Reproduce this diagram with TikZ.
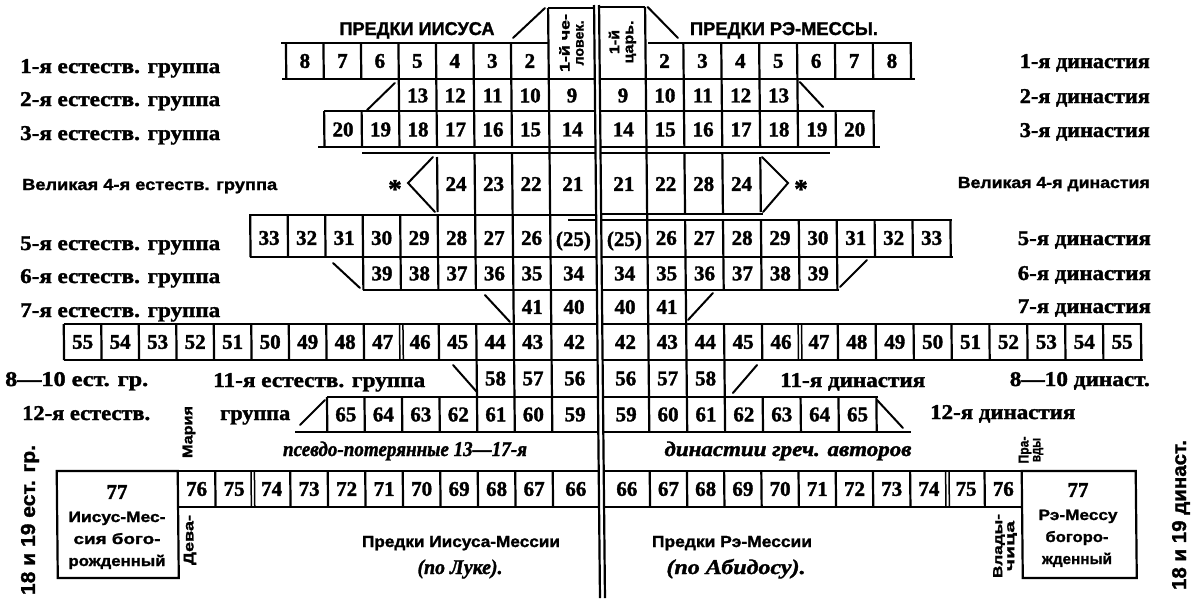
\documentclass[tikz,border=0pt]{standalone}
\usepackage{fontspec}
\setmainfont{Liberation Serif}[BoldFeatures={FakeBold=1.6},BoldItalicFeatures={FakeBold=1.6}]
\setsansfont{Liberation Sans}[BoldFeatures={FakeBold=1.4}]
\usepackage{graphicx}
\newcommand\fitto[2]{\resizebox{#1pt}{\height}{#2}}
\newcommand\Lbars[4]{\foreach \k in {#2}{\draw[rule] ({548-#1*\k},#3) -- ({548-#1*\k},#4);}}
\newcommand\Rbars[4]{\foreach \k in {#2}{\draw[rule] ({645+#1*\k},#3) -- ({645+#1*\k},#4);}}
\newcommand\Lnums[4]{\foreach \t [count=\k] in {#4}{\node[num] (#2-\k) at ({548-#1*(\k-0.5)},#3) {\t};}}
\newcommand\Rnums[4]{\foreach \t [count=\k] in {#4}{\node[num] (#2-\k) at ({645+#1*(\k-0.5)},#3) {\t};}}
\newcommand\Dbar[3]{\draw[dbl] ({#1-1.7},#2) -- ({#1-1.7},#3); \draw[dbl] ({#1+1.7},#2) -- ({#1+1.7},#3);}
\tikzset{
  rule/.style={line width=2.2pt, line cap=butt},
  dbl/.style={line width=1.5pt},
  diag/.style={line width=2pt, line cap=round, line join=miter},
  num/.style={font=\bfseries\fontsize{21}{21}\selectfont, inner sep=0pt},
  grp/.style={font=\bfseries\fontsize{21}{21}\selectfont, inner sep=0pt, anchor=base west},
  grpr/.style={grp, anchor=base east},
  sgrp/.style={font=\sffamily\bfseries\fontsize{16}{16}\selectfont, inner sep=0pt, anchor=base west},
  sgrpr/.style={sgrp, anchor=base east},
  hdr/.style={font=\sffamily\bfseries\fontsize{18.5}{18.5}\selectfont, inner sep=0pt, anchor=base},
  ital/.style={font=\bfseries\itshape\fontsize{21}{21}\selectfont, inner sep=0pt, anchor=base},
  sbot/.style={font=\sffamily\bfseries\fontsize{16}{16}\selectfont, inner sep=0pt, anchor=base},
  vert/.style={rotate=90, font=\sffamily\bfseries\fontsize{14}{14}\selectfont, align=center, inner sep=0pt},
  vbig/.style={rotate=90, font=\sffamily\bfseries\fontsize{20}{20}\selectfont, inner sep=0pt},
  boxt/.style={font=\sffamily\bfseries\fontsize{15}{15}\selectfont, inner sep=0pt, anchor=base},
  star/.style={font=\bfseries\fontsize{27}{27}\selectfont, inner sep=0pt},
}
\begin{document}
\begin{tikzpicture}[x=1pt,y=-1pt]
\useasboundingbox (0,0) rectangle (1200,600);
\begin{scope}[xslant=-0.01]
% central double line
\draw[rule] (594,5) -- (594,598);
\draw[rule] (599,5) -- (599,598);
% centre column borders
\draw[rule] (548,8) -- (548,432); \draw[rule] (548,471) -- (548,507);
\draw[rule] (645,7) -- (645,432); \draw[rule] (645,471) -- (645,507);
\draw[rule] (548,8) -- (594,8);
\draw[rule] (599,7) -- (645,7);
\draw[rule] (281,43) -- (548,43);
\draw[rule] (648,43) -- (912,43);
% horizontal rules
\foreach \y/\a in {79/281, 111/323, 147/317, 153/360.5, 215/247, 220/566, 257/247, 290/360.5, 324/60.5, 360/60.5, 397/323, 432/291, 471/52, 507/173}
  \draw[rule] (\a,\y) -- (594,\y);
\foreach \y/\b in {79/914, 111/874, 147/879, 153/828, 214/761, 220/950, 257/950, 290/836, 324/1139, 360/1139, 397/874, 432/907, 471/1131, 507/1017}
  \draw[rule] (599,\y) -- (\b,\y);
% vertical bars
\Lbars{37.5}{1,...,7}{43}{79}
\Rbars{37.9}{1,...,7}{43}{79}
\Lbars{37.5}{1,...,4}{79}{111}
\Rbars{37.9}{1,...,4}{79}{111}
\Lbars{37.5}{1,...,6}{111}{147}
\Rbars{37.9}{1,...,6}{111}{147}
\Lbars{37.5}{1,2}{153}{215}
\Lbars{37.5}{3}{157}{212}
\Rbars{37.9}{1,2}{153}{214}
\Rbars{37.9}{3}{157}{212}
\Lbars{37.5}{1,...,8}{215}{257}
\Rbars{37.9}{1,...,8}{220}{257}
\Lbars{37.5}{1,...,5}{257}{290}
\Rbars{37.9}{1,...,5}{257}{290}
\Lbars{37.5}{1}{290}{324}
\Rbars{37.9}{1}{290}{324}
\Lbars{37.5}{1,2,3,5,6,7,8,9,10,11,12,13}{324}{360}
\Rbars{37.9}{1,2,3,5,6,7,8,9,10,11,12,13}{324}{360}
\Dbar{398}{324}{360}
\Dbar{796.6}{324}{360}
\Lbars{37.5}{1,2}{360}{397}
\Rbars{37.9}{1,2}{360}{397}
\Lbars{37.5}{1,...,6}{397}{432}
\Rbars{37.9}{1,...,6}{397}{432}
\Lbars{37.5}{1,2,3,4,5,6,7,9}{471}{507}
\Rbars{37.2}{1,2,3,4,5,6,7,9}{471}{507}
\Dbar{248}{471}{507}
\Dbar{942.6}{471}{507}
% boxes 77
\draw[rule] (52,471) rectangle (173,578);
\draw[rule] (1017,471) rectangle (1131,578);
% diagonals
\draw[diag] (512.6,38) -- (544.9,8);
\draw[diag] (647.6,7) -- (677.6,38);
\draw[diag] (366,110) -- (394,83);
\draw[diag] (799,82) -- (822,107);
\draw[diag] (431.4,157) -- (406.2,183) -- (432.9,212);
\draw[diag] (760.4,157) -- (786.2,183) -- (760.9,212);
\draw[diag] (330.4,263) -- (357.1,288);
\draw[diag] (837.1,287) -- (864.4,260);
\draw[diag] (482,295) -- (506.8,322);
\draw[diag] (684.8,320) -- (710,293);
\draw[diag] (449.4,365) -- (473,392);
\draw[diag] (729,393) -- (753.4,365);
\draw[diag] (295.8,425) -- (321,400);
\draw[diag] (873,400) -- (898.7,428);
% numbers
\node[vert] (lc1) at (571,43) {\fitto{58}{1-й че-}\\\fitto{45}{ловек.}};
\node[vert] (rc1) at (622,42) {\fitto{24}{1-й}\\\fitto{43}{царь.}};
\Lnums{37.5}{la}{61}{2,3,4,5,6,7,8}
\Rnums{37.9}{ra}{61}{2,3,4,5,6,7,8}
\node[num] (lc2) at (571,95.5) {9};
\node[num] (rc2) at (622,95.5) {9};
\Lnums{37.5}{lb}{95.5}{10,11,12,13}
\Rnums{37.9}{rb}{95.5}{10,11,12,13}
\node[num] (lc3) at (571,129.5) {14};
\node[num] (rc3) at (622,129.5) {14};
\Lnums{37.5}{lcc}{129.5}{15,16,17,18,19,20}
\Rnums{37.9}{rcc}{129.5}{15,16,17,18,19,20}
\node[num] (lc4) at (571,184) {21};
\node[num] (rc4) at (622,184) {21};
\Lnums{37.5}{ld}{184}{22,23,24}
\Rnums{37.9}{rd}{184}{22,28,24}
\node[num] (lc5) at (571,241) {(25)};
\node[num] (rc5) at (622,241) {(25)};
\Lnums{37.5}{le}{238}{26,27,28,29,30,31,32,33}
\Rnums{37.9}{re}{238}{26,27,28,29,30,31,32,33}
\node[num] (lc6) at (571,273.5) {34};
\node[num] (rc6) at (622,273.5) {34};
\Lnums{37.5}{lf}{273.5}{35,36,37,38,39}
\Rnums{37.9}{rf}{273.5}{35,36,37,38,39}
\node[num] (lc7) at (571,307) {40};
\node[num] (rc7) at (622,307) {40};
\Lnums{37.5}{lg}{307}{41}
\Rnums{37.9}{rg}{307}{41}
\node[num] (lc8) at (571,342) {42};
\node[num] (rc8) at (622,342) {42};
\Lnums{37.5}{lh}{342}{43,44,45,46,47,48,49,50,51,52,53,54,55}
\Rnums{37.9}{rh}{342}{43,44,45,46,47,48,49,50,51,52,53,54,55}
\node[num] (lc9) at (571,378.5) {56};
\node[num] (rc9) at (622,378.5) {56};
\Lnums{37.5}{li}{378.5}{57,58}
\Rnums{37.9}{ri}{378.5}{57,58}
\node[num] (lc10) at (571,414.5) {59};
\node[num] (rc10) at (622,414.5) {59};
\Lnums{37.5}{lj}{414.5}{60,61,62,63,64,65}
\Rnums{37.9}{rj}{414.5}{60,61,62,63,64,65}
\node[num] (lc11) at (571,489) {66};
\node[num] (rc11) at (622,489) {66};
\Lnums{37.5}{lk}{489}{67,68,69,70,71,72,73,74,75,76}
\Rnums{37.2}{rk}{489}{67,68,69,70,71,72,73,74,75,76}
\end{scope}
% headers
\node[hdr] (h1) at (417,35) {\fitto{155}{ПРЕДКИ ИИСУСА}};
\node[hdr] (h2) at (784,35) {\fitto{188}{ПРЕДКИ РЭ-МЕССЫ.}};
% left labels
\node[grp] (g1) at (20,73) {\fitto{200}{1-я естеств. группа}};
\node[grp] (g2) at (20,106) {\fitto{200}{2-я естеств. группа}};
\node[grp] (g3) at (20,140) {\fitto{200}{3-я естеств. группа}};
\node[sgrp] (g4) at (22,190) {\fitto{255}{Великая 4-я естеств. группа}};
\node[grp] (g5) at (20,250) {\fitto{200}{5-я естеств. группа}};
\node[grp] (g6) at (20,283) {\fitto{200}{6-я естеств. группа}};
\node[grp] (g7) at (20,317) {\fitto{200}{7-я естеств. группа}};
\node[grp] (g8) at (5,386) {\fitto{143}{8—10 ест. гр.}};
\node[grp] (g11) at (213,387) {\fitto{212}{11-я естеств. группа}};
\node[grp] (g12) at (22,420) {\fitto{128}{12-я естеств.}};
\node[grp] (g12b) at (220,420) {\fitto{70}{группа}};
% right labels
\node[grpr] (d1) at (1150,68) {\fitto{130}{1-я династия}};
\node[grpr] (d2) at (1150,103) {\fitto{130}{2-я династия}};
\node[grpr] (d3) at (1150,137) {\fitto{130}{3-я династия}};
\node[sgrpr] (d4) at (1150,188) {\fitto{192}{Великая 4-я династия}};
\node[grpr] (d5) at (1151,245) {\fitto{133}{5-я династия}};
\node[grpr] (d6) at (1151,280) {\fitto{133}{6-я династия}};
\node[grpr] (d7) at (1151,313) {\fitto{133}{7-я династия}};
\node[grp] (d11) at (780,387) {\fitto{145}{11-я династия}};
\node[grpr] (d8) at (1150,386) {\fitto{140}{8—10 династ.}};
\node[grp] (d12) at (930,419) {\fitto{145}{12-я династия}};
% asterisks
\node[star] (s1) at (395,189) {*};
\node[star] (s2) at (801,189) {*};
% italic row
\node[ital] (p1) at (405,456) {\fitto{244}{псевдо-потерянные 13—17-я}};
\node[ital] (p2) at (788,456) {\fitto{247}{династии греч. авторов}};
% rotated small texts
\node[vert, font=\sffamily\bfseries\fontsize{14}{14}\selectfont] (m1) at (189,432) {\fitto{52}{Мария}};
\node[vert, font=\sffamily\bfseries\fontsize{14}{14}\selectfont] (m2) at (190,540) {\fitto{50}{Дева-}};
\node[vert, font=\sffamily\bfseries\fontsize{14}{12}\selectfont] (m3) at (1031,450) {\fitto{27}{Пра-}\\\fitto{24}{вды}};
\node[vert, font=\sffamily\bfseries\fontsize{13}{12}\selectfont] (m4) at (1005,546) {\fitto{64}{Влады-}\\\fitto{50}{чица}};
\node[vbig] (v1) at (30,520) {\fitto{150}{18 и 19 ест. гр.}};
\node[vbig] (v2) at (1181,515) {\fitto{150}{18 и 19 династ.}};
% bottom texts
\node[sbot] (b1) at (461,547) {\fitto{198}{Предки Иисуса-Мессии}};
\node[ital] (b2) at (460,574) {\fitto{85}{(по Луке).}};
\node[sbot] (b3) at (732,547) {\fitto{160}{Предки Рэ-Мессии}};
\node[ital] (b4) at (736,574) {\fitto{139}{(по Абидосу).}};
% box texts
\node[num] (x1) at (117,492) {77};
\node[boxt] (x2) at (117,522) {\fitto{97}{Иисус-Мес-}};
\node[boxt] (x3) at (117,544) {\fitto{87}{сия бого-}};
\node[boxt] (x4) at (117,566) {\fitto{97}{рожденный}};
\node[num] (y1) at (1078,490) {77};
\node[boxt] (y2) at (1078,520) {\fitto{79}{Рэ-Мессу}};
\node[boxt] (y3) at (1077,542) {\fitto{63}{богоро-}};
\node[boxt] (y4) at (1077,564) {\fitto{70}{жденный}};
\end{tikzpicture}
\end{document}
